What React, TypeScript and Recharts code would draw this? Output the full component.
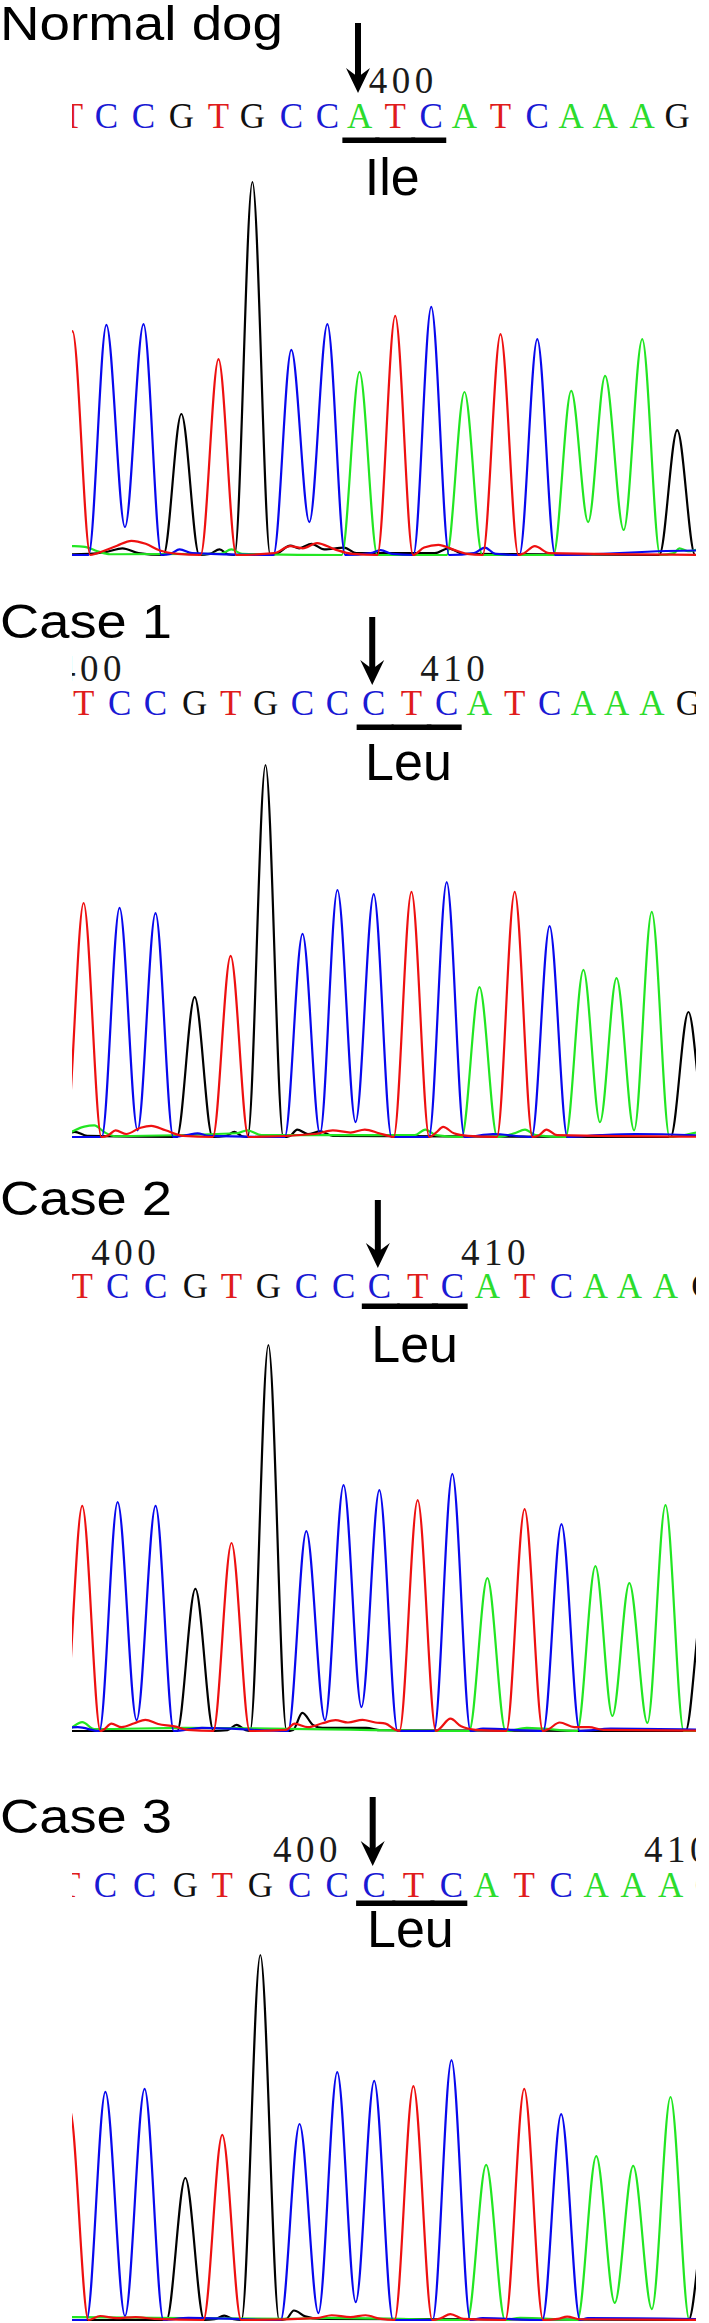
import React from 'react';
import { LineChart, Line, XAxis, YAxis } from 'recharts';

// ---------- DATA ----------
const panelTitles = ['Normal dog', 'Case 1', 'Case 2', 'Case 3'];
const aminoAcids = ['Ile', 'Leu', 'Leu', 'Leu'];
const mutationIndex = 8;
const codonIndices = [8, 9, 10];

// base calls
const calls1 = 'TCCGTGCCATCATCAAAG';
const calls2 = 'TCCGTGCCCTCATCAAAG';
const calls3 = 'TCCGTGCCCTCATCAAAG';
const calls4 = 'TCCGTGCCCTCATCAAAG';

// peak positions (base units) and peak heights (signal, tallest = 1000)
const positions1 = [0.05, 1.0, 2.04, 3.1, 4.14, 5.09, 6.18, 7.19, 8.09, 9.09, 10.1, 11.03, 12.04, 13.07, 14.02, 14.97, 16.01, 16.99];
const heights1 = [600, 617, 619, 378, 525, 1000, 550, 619, 491, 641, 665, 437, 592, 579, 440, 480, 579, 335];
const positions2 = [0.0, 1.01, 2.02, 3.12, 4.13, 5.11, 6.15, 7.13, 8.15, 9.21, 10.2, 11.12, 12.11, 13.09, 14.04, 14.97, 15.96, 16.99];
const heights2 = [629, 616, 602, 376, 487, 1000, 546, 664, 653, 659, 685, 403, 659, 567, 449, 427, 605, 336];
const positions3 = [0.02, 0.99, 2.03, 3.12, 4.11, 5.12, 6.16, 7.18, 8.16, 9.21, 10.16, 11.12, 12.14, 13.15, 14.08, 15.01, 16.0, 17.05];
const heights3 = [583, 593, 583, 368, 487, 1000, 518, 637, 624, 598, 666, 396, 575, 536, 427, 383, 585, 350];
const positions4 = [0.05, 1.0, 2.04, 3.12, 4.1, 5.11, 6.15, 7.15, 8.13, 9.17, 10.18, 11.1, 12.11, 13.09, 14.02, 15.0, 15.99, 16.97];
const heights4 = [580, 625, 633, 389, 507, 1000, 537, 679, 655, 641, 712, 425, 633, 564, 449, 422, 611, 330];

// valleys between neighbouring peaks of the same dye: [left base index, signal]
const troughs1: [number, number][] = [[1, 75], [6, 88], [14, 88], [15, 67]];
const troughs2: [number, number][] = [[1, 18], [6, 9], [7, 40], [14, 40], [15, 18]];
const troughs3: [number, number][] = [[1, 28], [6, 28], [7, 62], [14, 39], [15, 21]];
const troughs4: [number, number][] = [[1, 11], [6, 19], [7, 49], [14, 47], [15, 30]];

// baseline noise: [position, signal]
const noiseRed1: [number, number][] = [[0.9, 10], [1.3, 25], [1.7, 38], [2.1, 30], [2.5, 12], [3.0, 3], [5.7, 5], [6.15, 24], [6.5, 18], [6.9, 32], [7.4, 15], [7.9, 3], [9.9, 20], [10.3, 27], [10.7, 15], [11.1, 3], [12.7, 5], [13.0, 24], [13.4, 5]];
const noiseBlack1: [number, number][] = [[0.5, 3], [1.0, 8], [1.45, 18], [1.9, 5], [3.9, 3], [4.17, 15], [4.4, 2], [5.8, 5], [6.15, 25], [6.4, 18], [6.75, 30], [7.1, 15], [7.66, 20], [8.0, 5], [10.2, 5], [10.58, 18], [11.0, 3]];
const noiseGreen1: [number, number][] = [[-0.5, 10], [0.1, 24], [0.4, 22], [0.75, 10], [1.1, 2], [4.2, 3], [4.5, 15], [4.8, 3], [16.9, 5], [17.05, 18], [17.3, 10], [17.6, 15]];
const noiseBlue1: [number, number][] = [[2.8, 3], [3.05, 15], [3.4, 5], [8.4, 5], [8.68, 13], [9.0, 3], [11.3, 5], [11.6, 20], [11.9, 3], [17.5, 12]];

const noiseRed2: [number, number][] = [[0.7, 5], [0.9, 18], [1.2, 8], [1.6, 25], [1.9, 30], [2.3, 18], [2.8, 3], [6.5, 8], [7.0, 18], [7.5, 12], [7.9, 20], [8.3, 10], [8.6, 2], [9.9, 12], [10.1, 27], [10.4, 10], [10.8, 3], [12.8, 5], [13.0, 20], [13.3, 5]];
const noiseBlack2: [number, number][] = [[-0.6, 3], [-0.25, 14], [0.1, 3], [4.0, 3], [4.24, 14], [4.45, 2], [5.8, 3], [6.0, 20], [6.3, 8], [6.65, 15], [7.0, 3]];
const noiseGreen2: [number, number][] = [[-0.5, 8], [0.02, 28], [0.3, 31], [0.6, 12], [0.9, 2], [4.3, 10], [4.6, 18], [5.0, 5], [9.3, 5], [9.6, 20], [9.9, 5], [12.1, 10], [12.4, 20], [12.7, 5], [17.5, 15]];
const noiseBlue2: [number, number][] = [[2.9, 5], [3.2, 10], [3.5, 3], [11.5, 8], [14.5, 5], [15.5, 8]];

const noiseRed3: [number, number][] = [[0.6, 3], [0.82, 19], [1.1, 10], [1.45, 20], [1.75, 29], [2.1, 18], [2.55, 12], [2.9, 3], [5.6, 3], [5.84, 19], [6.2, 10], [6.6, 20], [6.96, 28], [7.3, 22], [7.7, 29], [8.05, 22], [8.33, 19], [8.6, 3], [9.8, 5], [10.11, 32], [10.4, 12], [10.8, 3], [12.8, 5], [13.1, 22], [13.5, 10], [13.9, 10], [14.3, 3]];
const noiseBlack3: [number, number][] = [[4.0, 2], [4.25, 16], [4.5, 2], [5.8, 3], [6.05, 47], [6.35, 15], [6.6, 8], [7.8, 8], [8.2, 2]];
const noiseGreen3: [number, number][] = [[-0.4, 3], [0.02, 23], [0.35, 5], [2.85, 8], [12.2, 8]];
const noiseBlue3: [number, number][] = [[-0.1, 10], [3.3, 8], [11.0, 6], [14.5, 6]];

const noiseRed4: [number, number][] = [[0.86, 11], [1.3, 5], [1.8, 8], [2.3, 3], [6.6, 5], [7.0, 13], [7.5, 8], [7.9, 13], [8.3, 3], [9.9, 5], [10.15, 16], [10.5, 3], [13.0, 3], [13.25, 9], [13.6, 2]];
const noiseBlack4: [number, number][] = [[3.9, 2], [4.15, 12], [4.4, 2], [5.8, 3], [6.0, 26], [6.3, 10], [6.7, 3]];
const noiseGreen4: [number, number][] = [[0.2, 8], [5.9, 3], [6.9, 6], [12.0, 6]];
const noiseBlue4: [number, number][] = [[3.2, 6], [11.0, 5], [13.8, 5]];

// position numbering shown above the base calls: [base index, label]
const numbering1: [number, string][] = [[9, '400']];
const numbering2: [number, string][] = [[0, '400'], [10, '410']];
const numbering3: [number, string][] = [[1, '400'], [11, '410']];
const numbering4: [number, string][] = [[6, '400'], [16, '410']];

// ---------- STYLE / LAYOUT ----------
const TRACE_COLOR: Record<string, string> = { A: '#22e622', C: '#0808ee', G: '#000000', T: '#ee1010' };
const LETTER_COLOR: Record<string, string> = { A: '#2cdc2c', C: '#1a1ad4', G: '#111111', T: '#e01c1c' };
const DOMAIN: [number, number] = [-1, 18.5];
const WIN_LEFT = 72;
const WIN_RIGHT = 696;

const LAYOUT = [
  { x0: 70.3, s: 35.7, title: 40, titleW: 283, arrowTop: 23, arrowTip: 93, num: 93, letter: 128, under: 140, label: 195, peakTop: 182, base: 555 },
  { x0: 84, s: 35.6, title: 638, titleW: 172, arrowTop: 617, arrowTip: 685, num: 681, letter: 715, under: 727, label: 780, peakTop: 765, base: 1137 },
  { x0: 81, s: 36.5, title: 1215, titleW: 172, arrowTop: 1200, arrowTip: 1268, num: 1265, letter: 1298, under: 1306, label: 1362, peakTop: 1345, base: 1731 },
  { x0: 67.3, s: 37.7, title: 1833, titleW: 172, arrowTop: 1797, arrowTip: 1866, num: 1862, letter: 1897, under: 1903, label: 1947, peakTop: 1955, base: 2320 },
];

type Panel = {
  calls: string;
  positions: number[];
  heights: number[];
  troughs: [number, number][];
  noise: Record<string, [number, number][]>;
  numbering: [number, string][];
};

const panels: Panel[] = [
  { calls: calls1, positions: positions1, heights: heights1, troughs: troughs1, numbering: numbering1, noise: { T: noiseRed1, G: noiseBlack1, A: noiseGreen1, C: noiseBlue1 } },
  { calls: calls2, positions: positions2, heights: heights2, troughs: troughs2, numbering: numbering2, noise: { T: noiseRed2, G: noiseBlack2, A: noiseGreen2, C: noiseBlue2 } },
  { calls: calls3, positions: positions3, heights: heights3, troughs: troughs3, numbering: numbering3, noise: { T: noiseRed3, G: noiseBlack3, A: noiseGreen3, C: noiseBlue3 } },
  { calls: calls4, positions: positions4, heights: heights4, troughs: troughs4, numbering: numbering4, noise: { T: noiseRed4, G: noiseBlack4, A: noiseGreen4, C: noiseBlue4 } },
];

type Pt = { x: number; y: number };

function buildTrace(p: Panel, dye: string): Pt[] {
  const idxs: number[] = [];
  for (let i = 0; i < p.calls.length; i++) if (p.calls[i] === dye) idxs.push(i);
  const tmap = new Map<number, number>(p.troughs);
  const pts: Pt[] = [{ x: DOMAIN[0], y: 0 }, { x: DOMAIN[1], y: 0 }];
  idxs.forEach((i, k) => {
    const prev = k > 0 ? idxs[k - 1] : -99;
    if (prev === i - 1 && tmap.has(prev)) {
      pts.push({ x: (p.positions[prev] + p.positions[i]) / 2, y: tmap.get(prev) as number });
    } else {
      if (prev >= 0) pts.push({ x: p.positions[prev] + 0.5, y: 0 });
      pts.push({ x: p.positions[i] - 0.5, y: 0 });
    }
    pts.push({ x: p.positions[i], y: p.heights[i] });
  });
  if (idxs.length) pts.push({ x: p.positions[idxs[idxs.length - 1]] + 0.5, y: 0 });
  (p.noise[dye] || []).forEach(([x, y]) => {
    const inside = idxs.some((i) => Math.abs(x - p.positions[i]) < 0.52);
    if (!inside) pts.push({ x, y });
  });
  pts.sort((a, b) => a.x - b.x);
  const out: Pt[] = [];
  pts.forEach((pt) => {
    if (!out.length || pt.x - out[out.length - 1].x > 0.02) out.push(pt);
  });
  return out.filter((pt) => pt.x >= DOMAIN[0] && pt.x <= DOMAIN[1]);
}

const SERIF = '"Liberation Serif", "DejaVu Serif", serif';
const SANS = '"Liberation Sans", Arial, sans-serif';

function PanelChart({ p, L, aa }: { p: Panel; L: typeof LAYOUT[number]; aa: string }) {
  const chartTop = L.arrowTop - 4;
  const chartLeft = L.x0 - L.s;
  const width = 19.5 * L.s;
  const height = L.base + 6 - chartTop;
  const ry = (v: number) => v - chartTop;

  const renderTick = (props: any) => {
    const { x, payload } = props;
    const i = p.positions.indexOf(payload.value);
    if (i < 0) return <g />;
    const c = p.calls[i];
    const els: React.ReactNode[] = [];
    els.push(
      <text key="l" x={x} y={ry(L.letter)} textAnchor="middle" fontFamily={SERIF} fontSize={35} fill={LETTER_COLOR[c]}>
        {c}
      </text>
    );
    const num = p.numbering.find((n) => n[0] === i);
    if (num) {
      els.push(
        <text key="n" x={x + 8} y={ry(L.num)} textAnchor="middle" fontFamily={SERIF} fontSize={37} letterSpacing={4.5} fill="#1a1a1a">
          {num[1]}
        </text>
      );
    }
    if (codonIndices.includes(i)) {
      const first = i === codonIndices[0];
      const last = i === codonIndices[codonIndices.length - 1];
      const x1 = x - (first ? 0.48 : 0.56) * L.s;
      const x2 = x + (last ? 0.42 : 0.56) * L.s;
      els.push(<rect key="u" x={x1} y={ry(L.under) - 2.5} width={x2 - x1} height={5.5} fill="#000" />);
    }
    if (i === codonIndices[1]) {
      els.push(
        <text key="aa" x={x - 3} y={ry(L.label)} textAnchor="middle" fontFamily={SANS} fontSize={52} fill="#000">
          {aa}
        </text>
      );
    }
    if (i === mutationIndex) {
      const ax = x - 1.5;
      const top = ry(L.arrowTop);
      const tip = ry(L.arrowTip);
      els.push(
        <g key="arrow">
          <line x1={ax} y1={top} x2={ax} y2={tip - 12} stroke="#000" strokeWidth={6} />
          <path d={`M ${ax} ${tip} L ${ax - 12} ${tip - 25} L ${ax} ${tip - 16} L ${ax + 12} ${tip - 25} Z`} fill="#000" />
        </g>
      );
    }
    return <g>{els}</g>;
  };

  const order = ['G', 'A', 'C', 'T'];
  const traces = order.map((d) => ({ dye: d, pts: buildTrace(p, d) }));

  return (
    <div style={{ position: 'absolute', left: WIN_LEFT, top: chartTop, width: WIN_RIGHT - WIN_LEFT, height, overflow: 'hidden' }}>
      <div style={{ position: 'absolute', left: chartLeft - WIN_LEFT, top: 0 }}>
        <LineChart width={width} height={height} margin={{ top: 0, right: 0, bottom: 6, left: 0 }}>
          <XAxis
            type="number"
            dataKey="x"
            orientation="top"
            domain={DOMAIN}
            ticks={p.positions}
            interval={0}
            tick={renderTick}
            tickLine={false}
            axisLine={false}
            tickSize={0}
            tickMargin={0}
            height={L.peakTop - chartTop}
            allowDataOverflow
          />
          <YAxis hide type="number" domain={[0, 1000]} />
          {traces.map((t) => (
            <Line
              key={t.dye}
              data={t.pts}
              dataKey="y"
              type="monotone"
              stroke={TRACE_COLOR[t.dye]}
              strokeWidth={2.2}
              dot={false}
              activeDot={false}
              isAnimationActive={false}
            />
          ))}
        </LineChart>
      </div>
    </div>
  );
}

export default function App() {
  return (
    <div style={{ position: 'absolute', left: 0, top: 0, width: 709, height: 2323, background: '#fff', overflow: 'hidden' }}>
      {panels.map((p, k) => (
        <PanelChart key={k} p={p} L={LAYOUT[k]} aa={aminoAcids[k]} />
      ))}
      <svg width={709} height={2323} style={{ position: 'absolute', left: 0, top: 0, pointerEvents: 'none' }}>
        {panelTitles.map((t, k) => (
          <text
            key={t}
            x={0}
            y={LAYOUT[k].title}
            fontFamily={SANS}
            fontSize={48}
            textLength={LAYOUT[k].titleW}
            lengthAdjust="spacingAndGlyphs"
            fill="#000"
          >
            {t}
          </text>
        ))}
      </svg>
    </div>
  );
}
